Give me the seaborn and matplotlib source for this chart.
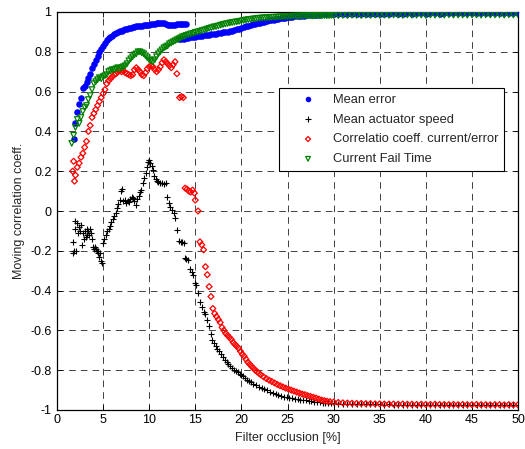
import numpy as np
import pandas as pd
import matplotlib
matplotlib.use("Agg")
import matplotlib.pyplot as plt
import seaborn as sns

# ---------------- data ----------------
x_ticks = [0, 5, 10, 15, 20, 25, 30, 35, 40, 45, 50]
x_tick_labels = ["0", "5", "10", "15", "20", "25", "30", "35", "40", "45", "50"]
y_ticks = [-1, -0.8, -0.6, -0.4, -0.2, 0, 0.2, 0.4, 0.6, 0.8, 1]
y_tick_labels = ["-1", "-0.8", "-0.6", "-0.4", "-0.2", "0", "0.2", "0.4", "0.6", "0.8", "1"]

series_names = ["Mean error", "Mean actuator speed",
                "Correlatio coeff. current/error", "Current Fail Time"]

# shared sampling positions for the upper band and the flat tail
band_x = [14.0, 14.25, 14.5, 14.75, 15.0, 15.25, 15.5, 15.75,
          16.0, 16.25, 16.5, 16.75, 17.0, 17.25, 17.5, 17.75,
          18.0, 18.25, 18.5, 18.75, 19.0, 19.25, 19.5, 19.75,
          20.0, 20.25, 20.5, 20.75, 21.0, 21.25, 21.5, 21.75,
          22.0, 22.25, 22.5, 22.75, 23.0, 23.25, 23.5, 23.75,
          24.0, 24.25, 24.5, 24.75, 25.0, 25.25, 25.5, 25.75,
          26.0, 26.25, 26.5, 26.75, 27.0, 27.25, 27.5, 27.75,
          28.0, 28.25, 28.5, 28.75, 29.0, 29.25, 29.5, 29.75, 30.0]
flat_x = [30.5, 31.0, 31.5, 32.0, 32.5, 33.0, 33.5, 34.0, 34.5, 35.0,
          35.5, 36.0, 36.5, 37.0, 37.5, 38.0, 38.5, 39.0, 39.5, 40.0,
          40.5, 41.0, 41.5, 42.0, 42.5, 43.0, 43.5, 44.0, 44.5, 45.0,
          45.5, 46.0, 46.5, 47.0, 47.5, 48.0, 48.5, 49.0, 49.5, 50.0]

# Mean error (blue)
err_x1 = [1.8, 2.0, 2.2, 2.4, 2.6, 2.8, 3.0, 3.2, 3.4, 3.6,
          3.8, 4.0, 4.2, 4.4, 4.6, 4.8, 5.0, 5.2, 5.4, 5.6,
          5.8, 6.0, 6.2, 6.4, 6.6, 6.8, 7.0, 7.2, 7.4, 7.6,
          7.8, 8.0, 8.2, 8.4, 8.6, 8.8, 9.0, 9.2, 9.4, 9.6,
          9.8, 10.0, 10.2, 10.4, 10.6, 10.8, 11.0, 11.2, 11.4, 11.6,
          11.8, 12.0, 12.2, 12.4, 12.6, 12.8, 13.0, 13.2, 13.4, 13.6,
          13.8, 14.0]
err_y1 = [0.36, 0.44, 0.50, 0.54, 0.57, 0.62, 0.63, 0.65, 0.67, 0.69,
          0.72, 0.74, 0.76, 0.78, 0.80, 0.815, 0.83, 0.845, 0.86, 0.87,
          0.875, 0.88, 0.89, 0.893, 0.90, 0.905, 0.905, 0.91, 0.915, 0.915,
          0.92, 0.92, 0.925, 0.925, 0.93, 0.93, 0.928, 0.932, 0.935, 0.935,
          0.937, 0.935, 0.94, 0.94, 0.942, 0.945, 0.945, 0.947, 0.945, 0.943,
          0.94, 0.937, 0.935, 0.935, 0.933, 0.935, 0.94, 0.94, 0.94, 0.938,
          0.94, 0.94]
err_x_start = [13.25, 13.5, 13.75]
err_y_start = [0.864, 0.865, 0.866]
err_y_band = [0.868, 0.870, 0.872, 0.873, 0.876, 0.877, 0.878, 0.880,
              0.882, 0.884, 0.886, 0.888, 0.890, 0.891, 0.893, 0.895,
              0.897, 0.900, 0.902, 0.905, 0.907, 0.910, 0.913, 0.917,
              0.920, 0.924, 0.928, 0.931, 0.935, 0.938, 0.940, 0.943,
              0.946, 0.949, 0.952, 0.955, 0.958, 0.960, 0.962, 0.964,
              0.966, 0.968, 0.970, 0.972, 0.974, 0.975, 0.977, 0.978,
              0.979, 0.980, 0.981, 0.982, 0.983, 0.984, 0.985, 0.985,
              0.986, 0.987, 0.987, 0.988, 0.988, 0.989, 0.989, 0.990, 0.990]
err_y_flat = [0.990, 0.991, 0.990, 0.991, 0.991, 0.992, 0.991, 0.992, 0.992, 0.991,
              0.992, 0.992, 0.993, 0.992, 0.992, 0.993, 0.992, 0.993, 0.993, 0.992,
              0.993, 0.993, 0.992, 0.993, 0.993, 0.994, 0.993, 0.993, 0.994, 0.993,
              0.994, 0.993, 0.994, 0.994, 0.993, 0.994, 0.994, 0.994, 0.993, 0.994]

# Mean actuator speed (black +)
spd_x1 = [1.7, 1.75, 1.8, 1.9, 2.0, 2.1, 2.2, 2.3, 2.4, 2.5,
          2.6, 2.7, 2.8, 2.9, 3.0, 3.1, 3.2, 3.3, 3.4, 3.5,
          3.6, 3.7, 3.8, 3.9, 4.0, 4.1, 4.2, 4.3, 4.4, 4.5,
          4.6, 4.7, 4.8, 4.9]
spd_y1 = [-0.155, -0.21, -0.20, -0.05, -0.09, -0.20, -0.06, -0.11, -0.08, -0.10,
          -0.07, -0.17, -0.11, -0.14, -0.10, -0.13, -0.12, -0.09, -0.10, -0.12,
          -0.09, -0.11, -0.14, -0.18, -0.19, -0.18, -0.19, -0.20, -0.21, -0.20,
          -0.23, -0.21, -0.25, -0.26]
spd_x2 = [5.0, 5.15, 5.3, 5.45, 5.6, 5.75, 5.9, 6.05, 6.2, 6.35, 6.5, 6.65, 6.8, 6.95,
          7.05, 7.2, 7.35, 7.5, 7.65, 7.8, 7.95, 8.1, 8.25, 8.4, 8.55, 8.7, 8.85, 9.0,
          9.15, 9.3, 9.45, 9.6, 9.75, 9.9,
          10.0, 10.1, 10.25, 10.4, 10.55, 10.7, 10.85, 11.0,
          11.2, 11.4, 11.6, 11.8, 11.9,
          12.1, 12.3, 12.5, 12.7, 12.8,
          13.0, 13.2, 13.4, 13.6, 13.8]
spd_y2 = [-0.16, -0.14, -0.12, -0.10, -0.09, -0.075, -0.055, -0.04, -0.025, -0.01, 0.015, 0.035, 0.055, 0.10,
          0.11, 0.05, 0.055, 0.04, 0.05, 0.045, 0.06, 0.07, 0.065, 0.05, 0.03, 0.06, 0.075, 0.095,
          0.105, 0.14, 0.165, 0.19, 0.22, 0.245,
          0.255, 0.24, 0.225, 0.205, 0.175, 0.16, 0.15, 0.145,
          0.14, 0.14, 0.135, 0.14, 0.07,
          0.04, 0.02, 0.005, -0.01, -0.035,
          -0.095, -0.15, -0.155, -0.155, -0.16]
spd_x3 = [13.9, 14.0, 14.2, 14.4, 14.6, 14.8, 15.0, 15.1, 15.3, 15.5,
          15.7, 15.9, 16.1, 16.3, 16.5, 16.7, 16.8, 17.0, 17.2, 17.4,
          17.6, 17.8, 18.0, 18.2, 18.4, 18.6, 18.8, 19.0, 19.2, 19.4,
          19.6, 19.8, 20.0, 20.2, 20.4, 20.6, 20.8, 21.0, 21.3, 21.6,
          21.9, 22.2, 22.5, 22.8, 23.1, 23.4, 23.7, 24.0, 24.3, 24.6,
          24.9, 25.2, 25.5, 25.8, 26.1, 26.4, 26.7, 27.0, 27.3, 27.6,
          27.9, 28.2, 28.5, 28.8, 29.1, 29.4, 29.7, 30.0]
spd_y3 = [-0.235, -0.24, -0.245, -0.29, -0.305, -0.32, -0.36, -0.37, -0.41, -0.455,
          -0.48, -0.51, -0.52, -0.55, -0.58, -0.62, -0.65, -0.665, -0.68, -0.695,
          -0.705, -0.72, -0.735, -0.75, -0.76, -0.77, -0.78, -0.79, -0.80, -0.805,
          -0.81, -0.82, -0.825, -0.83, -0.84, -0.85, -0.855, -0.86, -0.867, -0.875,
          -0.882, -0.89, -0.895, -0.90, -0.908, -0.915, -0.92, -0.925, -0.93, -0.934,
          -0.937, -0.94, -0.942, -0.944, -0.946, -0.948, -0.95, -0.952, -0.954, -0.956,
          -0.958, -0.96, -0.962, -0.963, -0.964, -0.965, -0.966, -0.967]
spd_y_flat = [-0.968, -0.969, -0.970, -0.970, -0.971, -0.971, -0.972, -0.971, -0.972, -0.972,
              -0.973, -0.972, -0.973, -0.973, -0.974, -0.973, -0.974, -0.974, -0.973, -0.974,
              -0.974, -0.975, -0.974, -0.974, -0.975, -0.974, -0.975, -0.975, -0.974, -0.975,
              -0.975, -0.975, -0.976, -0.975, -0.975, -0.976, -0.975, -0.976, -0.975, -0.976]

# Correlation coefficient current/error (red diamonds)
cor_x1 = [1.7, 1.8, 1.9, 2.0, 2.2, 2.4, 2.6, 2.8, 3.0, 3.2,
          3.4, 3.6, 3.8, 4.0, 4.2, 4.4, 4.6, 4.8, 5.0, 5.2,
          5.4, 5.6, 5.8, 6.0, 6.2, 6.4, 6.6, 6.8, 7.0, 7.2,
          7.4, 7.6, 7.8, 8.0, 8.2, 8.4, 8.6, 8.8, 9.0, 9.2,
          9.4, 9.6, 9.8, 10.0, 10.2, 10.4, 10.6, 10.8, 11.0, 11.2,
          11.4, 11.6, 11.8, 12.0, 12.2, 12.4, 12.6, 12.8, 13.0]
cor_y1 = [0.20, 0.25, 0.15, 0.18, 0.22, 0.24, 0.27, 0.29, 0.32, 0.35,
          0.40, 0.43, 0.47, 0.49, 0.51, 0.53, 0.55, 0.57, 0.59, 0.61,
          0.64, 0.655, 0.665, 0.675, 0.685, 0.69, 0.70, 0.705, 0.70, 0.705,
          0.695, 0.69, 0.685, 0.68, 0.685, 0.71, 0.72, 0.71, 0.70, 0.685,
          0.68, 0.695, 0.715, 0.725, 0.73, 0.725, 0.71, 0.70, 0.71, 0.725,
          0.745, 0.76, 0.75, 0.74, 0.73, 0.72, 0.735, 0.75, 0.69]
cor_x2 = [13.3, 13.5, 13.7, 13.9, 14.1, 14.3, 14.5, 14.7, 14.9, 15.0, 15.3]
cor_y2 = [0.57, 0.575, 0.57, 0.115, 0.11, 0.10, 0.095, 0.105, 0.09, 0.055, 0.0]
cor_x3 = [15.5, 15.7, 15.9, 16.1, 16.3, 16.5, 16.7, 16.9, 17.1, 17.3,
          17.5, 17.7, 17.9, 18.1, 18.3, 18.5, 18.7, 18.9, 19.1, 19.3,
          19.5, 19.7, 19.9, 20.1, 20.3, 20.5, 20.7, 20.9, 21.1, 21.3,
          21.5, 21.7, 21.9, 22.1, 22.4, 22.7, 23.0, 23.3, 23.6, 23.9,
          24.2, 24.5, 24.8, 25.1, 25.4, 25.7, 26.0, 26.3, 26.6, 26.9,
          27.2, 27.5, 27.8, 28.1, 28.4, 28.7, 29.0, 29.3, 29.6, 30.0]
cor_y3 = [-0.155, -0.17, -0.195, -0.28, -0.32, -0.38, -0.43, -0.49, -0.515, -0.53,
          -0.545, -0.56, -0.585, -0.60, -0.615, -0.625, -0.635, -0.645, -0.66, -0.67,
          -0.68, -0.69, -0.705, -0.72, -0.73, -0.745, -0.76, -0.77, -0.78, -0.79,
          -0.80, -0.808, -0.815, -0.823, -0.833, -0.842, -0.85, -0.857, -0.864, -0.872,
          -0.878, -0.884, -0.89, -0.895, -0.90, -0.905, -0.91, -0.915, -0.92, -0.923,
          -0.928, -0.932, -0.936, -0.94, -0.945, -0.95, -0.953, -0.956, -0.958, -0.96]
cor_y_flat = [-0.962, -0.964, -0.965, -0.966, -0.967, -0.967, -0.968, -0.968, -0.969, -0.969,
              -0.970, -0.970, -0.970, -0.971, -0.970, -0.971, -0.971, -0.972, -0.971, -0.972,
              -0.972, -0.971, -0.972, -0.972, -0.973, -0.972, -0.973, -0.972, -0.973, -0.973,
              -0.972, -0.973, -0.973, -0.974, -0.973, -0.973, -0.974, -0.973, -0.974, -0.974]

# Current fail time (green triangles)
cft_x1 = [1.6, 1.8, 2.0, 2.2, 2.4, 2.6, 2.8, 3.0, 3.2, 3.4,
          3.6, 3.8, 4.0, 4.2, 4.4, 4.6, 4.8, 5.0, 5.2, 5.4,
          5.6, 5.8, 6.0, 6.2, 6.4, 6.6, 6.8, 7.0, 7.2, 7.4,
          7.6, 7.8, 8.0, 8.2, 8.4, 8.6, 8.8, 9.0, 9.2, 9.4,
          9.6, 9.8, 10.0, 10.2, 10.4, 10.6, 10.8, 11.0, 11.2, 11.4,
          11.6, 11.8, 12.0, 12.2, 12.4, 12.6, 12.8, 13.0, 13.2, 13.4,
          13.6, 13.8]
cft_y1 = [0.34, 0.38, 0.42, 0.46, 0.44, 0.47, 0.50, 0.52, 0.53, 0.56,
          0.58, 0.61, 0.64, 0.65, 0.66, 0.67, 0.665, 0.675, 0.68, 0.685,
          0.70, 0.705, 0.71, 0.71, 0.715, 0.72, 0.715, 0.72, 0.725, 0.73,
          0.74, 0.755, 0.765, 0.775, 0.785, 0.79, 0.80, 0.80, 0.795, 0.79,
          0.78, 0.77, 0.76, 0.755, 0.75, 0.76, 0.775, 0.79, 0.80, 0.81,
          0.82, 0.825, 0.83, 0.84, 0.845, 0.85, 0.855, 0.86, 0.865, 0.87,
          0.875, 0.878]
cft_y_band = [0.882, 0.886, 0.890, 0.893, 0.897, 0.900, 0.903, 0.907,
              0.910, 0.914, 0.918, 0.921, 0.925, 0.927, 0.930, 0.934,
              0.937, 0.940, 0.942, 0.945, 0.947, 0.949, 0.951, 0.953,
              0.955, 0.958, 0.960, 0.962, 0.963, 0.965, 0.966, 0.968,
              0.969, 0.970, 0.971, 0.971, 0.972, 0.973, 0.974, 0.974,
              0.975, 0.976, 0.977, 0.977, 0.978, 0.978, 0.979, 0.979,
              0.980, 0.979, 0.980, 0.981, 0.980, 0.981, 0.981, 0.980,
              0.981, 0.982, 0.981, 0.982, 0.982, 0.981, 0.982, 0.983, 0.982]
cft_y_flat = [0.982, 0.983, 0.982, 0.984, 0.983, 0.982, 0.984, 0.983, 0.985, 0.983,
              0.984, 0.983, 0.985, 0.984, 0.983, 0.985, 0.984, 0.984, 0.985, 0.983,
              0.985, 0.984, 0.985, 0.984, 0.986, 0.984, 0.985, 0.985, 0.984, 0.986,
              0.985, 0.984, 0.986, 0.985, 0.985, 0.986, 0.984, 0.986, 0.985, 0.986]

# ---------------- assemble ----------------
err = pd.DataFrame({"x": err_x1 + err_x_start + band_x + flat_x,
                    "y": err_y1 + err_y_start + err_y_band + err_y_flat})
spd = pd.DataFrame({"x": spd_x1 + spd_x2 + spd_x3 + flat_x,
                    "y": spd_y1 + spd_y2 + spd_y3 + spd_y_flat})
cor = pd.DataFrame({"x": cor_x1 + cor_x2 + cor_x3 + flat_x,
                    "y": cor_y1 + cor_y2 + cor_y3 + cor_y_flat})
cft = pd.DataFrame({"x": cft_x1 + band_x + flat_x,
                    "y": cft_y1 + cft_y_band + cft_y_flat})

# ---------------- style ----------------
sns.set_style("ticks")
plt.rcParams["font.family"] = ["Liberation Sans", "DejaVu Sans"]
plt.rcParams["axes.unicode_minus"] = False
plt.rcParams["lines.scale_dashes"] = False

fig = plt.figure(figsize=(5.25, 4.49), dpi=100)
fig.patch.set_facecolor("white")
ax = fig.add_axes([57 / 525, 39 / 449, 461 / 525, 398 / 449])

blue = "#0000ff"
red = "#ff0000"
green = "#008000"

sns.scatterplot(data=err, x="x", y="y", ax=ax, marker="o", color=blue,
                s=22, linewidth=0, label=series_names[0], legend=False, zorder=3)
sns.scatterplot(data=spd, x="x", y="y", ax=ax, marker="+", color="black",
                s=24, linewidth=0.8, label=series_names[1], legend=False, zorder=3)
sns.scatterplot(data=cor, x="x", y="y", ax=ax, marker="D", color=red,
                facecolors="none", edgecolor=red, s=9, linewidth=0.9,
                label=series_names[2], legend=False, zorder=3)
sns.scatterplot(data=cft, x="x", y="y", ax=ax, marker="v", color=green,
                facecolors="none", edgecolor=green, s=16, linewidth=0.9,
                label=series_names[3], legend=False, zorder=3)

ax.set_xlim(0, 50)
ax.set_ylim(-1, 1)
ax.set_xticks(x_ticks)
ax.set_xticklabels(x_tick_labels)
ax.set_yticks(y_ticks)
ax.set_yticklabels(y_tick_labels)
ax.tick_params(direction="in", top=True, right=True, length=3.3, width=0.6,
               labelsize=9, colors="black")
ax.tick_params(axis="x", pad=3)
ax.tick_params(axis="y", pad=4)
ax.grid(True, color="#222222", linestyle=(0, (4.8, 3.6)), linewidth=0.6)
ax.set_axisbelow(True)
for sp in ax.spines.values():
    sp.set_visible(True)
    sp.set_color("black")
    sp.set_linewidth(0.9)

ax.set_xlabel("Filter occlusion [%]", fontsize=9, labelpad=4)
ax.set_ylabel("Moving correlation coeff.", fontsize=9, labelpad=4)

leg = ax.legend(loc="upper left", bbox_to_anchor=(222 / 461, 322 / 398),
                borderaxespad=0, fontsize=9.3, frameon=True, fancybox=False,
                edgecolor="black", framealpha=1, borderpad=0.45,
                handlelength=3.6, handletextpad=0.14, labelspacing=0.6,
                scatterpoints=1, markerscale=0.85)
leg.get_frame().set_linewidth(0.8)
leg.set_zorder(5)

fig.savefig("out.png", dpi=100, facecolor="white")
